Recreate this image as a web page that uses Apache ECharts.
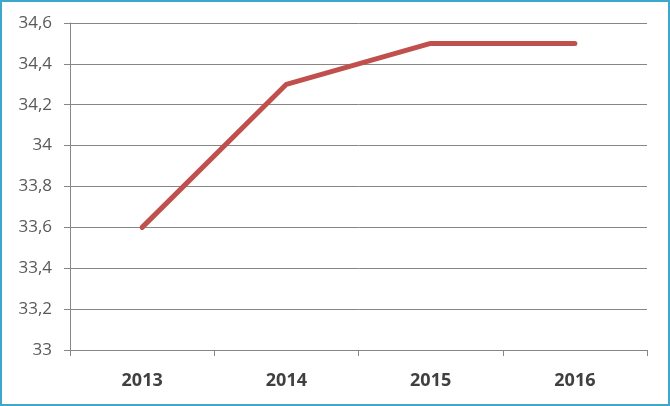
<!DOCTYPE html>
<html><head><meta charset="utf-8">
<script src="https://cdn.jsdelivr.net/npm/echarts@6/dist/echarts.min.js"></script>
<style>html,body{margin:0;padding:0;background:#fff}
#c{position:absolute;left:0;top:0;width:666px;height:402px;border:2px solid #3fa8c8;border-right-width:2px}</style>
</head><body><div id="c"></div>
<script>
const categories = ['2013','2014','2015','2016'];
const values = [33.6, 34.3, 34.5, 34.5];
const yMin = 33, yMax = 34.6, yStep = 0.2;
const chart = echarts.init(document.getElementById('c'));
chart.setOption({
  animation:false,
  grid:{left:68,right:21,top:21,bottom:54},
  xAxis:{type:'category',data:categories,boundaryGap:true,
    axisLine:{lineStyle:{color:'#868686',width:1}},
    axisTick:{show:true,length:6,lineStyle:{color:'#868686'}},
    axisLabel:{color:'#404040',fontSize:18,fontWeight:'bold',fontFamily:'Open Sans, sans-serif',margin:22}},
  yAxis:{type:'value',min:yMin,max:yMax,interval:yStep,
    axisLine:{show:true,lineStyle:{color:'#868686'}},
    axisTick:{show:true,length:6,lineStyle:{color:'#868686'}},
    splitLine:{lineStyle:{color:'#868686',width:1}},
    axisLabel:{color:'#595959',fontSize:17,fontFamily:'Open Sans, sans-serif',margin:18,
      formatter:v=>String(Math.round(v*10)/10).replace('.',',')}},
  series:[{type:'line',data:values,symbol:'none',lineStyle:{color:'#c0504d',width:5,cap:'round',join:'round'}}]
});
</script></body></html>
